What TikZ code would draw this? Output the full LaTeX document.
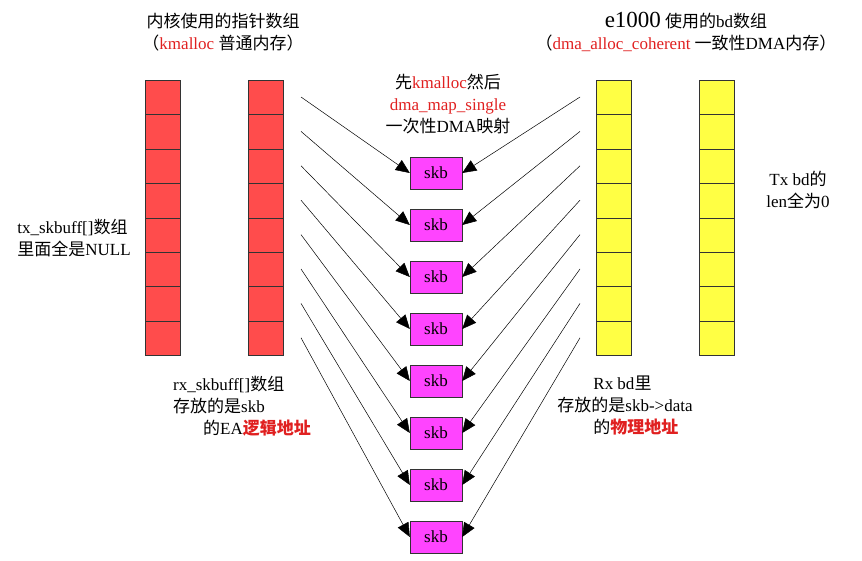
\documentclass[tikz,border=0pt]{standalone}
\usepackage{fontspec}
\setmainfont{Liberation Serif}
\newfontfamily\cjk{Noto Sans CJK SC}
\usetikzlibrary{arrows.meta}
\definecolor{cred}{HTML}{FF4C4C}
\definecolor{cyel}{HTML}{FFFF44}
\definecolor{cmag}{HTML}{FF44FF}
\definecolor{tred}{HTML}{E02020}
\begin{document}
\begin{tikzpicture}[x=1pt,y=-1pt,
  cell/.style={draw=black!80,line width=0.8pt,minimum width=35pt,minimum height=34.4pt,inner sep=0pt,anchor=north west},
  skbbox/.style={draw=black!80,fill=cmag,minimum width=52pt,minimum height=32pt,inner sep=0pt,font=\fontsize{17}{17}\selectfont},
  lbl/.style={font=\fontsize{17}{22}\selectfont,align=center,inner sep=0pt},
  arr/.style={-{Triangle[length=14pt,width=12pt]},line width=0.5pt}]
\useasboundingbox (0,0) rectangle (862,561);
\foreach \c/\x/\col in {a/145/cred,b/248/cred,c/596/cyel,d/699/cyel}{
  \foreach \i in {1,...,8}{
    \node[cell,fill=\col] (\c\i) at (\x,{80+(\i-1)*34.4}) {};
  }
}
\foreach \i in {1,...,8}{
  \node[skbbox] (s\i) at (436,{173+(\i-1)*52}) {skb};
  \coordinate (l\i) at (301,{97+(\i-1)*34.4});
  \coordinate (r\i) at (580,{97+(\i-1)*34.4});
  \draw[arr] (l\i) -- (s\i.west);
  \draw[arr] (r\i) -- (s\i.east);
}
\node[lbl] (t1) at (223,32) {{\cjk 内核使用的指针数组}\\{\cjk （}\textcolor{tred}{kmalloc} {\cjk 普通内存）}};
\node[lbl] (t2) at (686,32) {{\fontsize{23}{23}\selectfont e1000} {\cjk 使用的}bd{\cjk 数组}\\{\cjk （}\textcolor{tred}{dma\_alloc\_coherent} {\cjk 一致性}DMA{\cjk 内存）}};
\node[lbl] (t3) at (448,104) {{\cjk 先}\textcolor{tred}{kmalloc}{\cjk 然后}\\\textcolor{tred}{dma\_map\_single}\\{\cjk 一次性}DMA{\cjk 映射}};
\node[lbl,align=left] (t4) at (74,238) {tx\_skbuff[]{\cjk 数组}\\{\cjk 里面全是}NULL};
\node[lbl,align=left] (t5) at (242,406) {rx\_skbuff[]{\cjk 数组}\\{\cjk 存放的是}skb\\\hspace{30pt}{\cjk 的}EA\textcolor{tred}{\cjk\bfseries 逻辑地址}};
\node[lbl,align=left] (t6) at (625,406) {\hspace{36pt}Rx bd{\cjk 里}\\{\cjk 存放的是}skb->data\\\hspace{36pt}{\cjk 的}\textcolor{tred}{\cjk\bfseries 物理地址}};
\node[lbl] (t7) at (798,190) {Tx bd{\cjk 的}\\len{\cjk 全为}0};
\end{tikzpicture}
\end{document}
